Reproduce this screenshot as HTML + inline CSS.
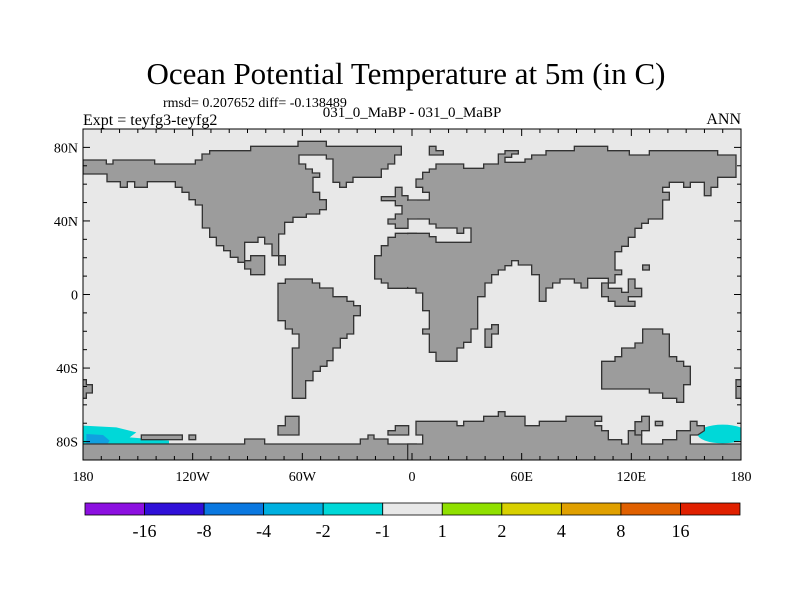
<!DOCTYPE html>
<html><head><meta charset="utf-8"><style>
body{margin:0;background:#fff;}
svg{display:block;font-family:"Liberation Serif",serif;}
</style></head><body>
<svg width="800" height="600" viewBox="0 0 800 600">
<text x="406" y="84" font-size="31" text-anchor="middle">Ocean Potential Temperature at 5m (in C)</text>
<text x="163" y="107" font-size="14">rmsd= 0.207652 diff= -0.138489</text>
<text x="412" y="117" font-size="15" text-anchor="middle">031_0_MaBP - 031_0_MaBP</text>
<text x="83" y="125" font-size="16">Expt = teyfg3-teyfg2</text>
<text x="741" y="124" font-size="16" text-anchor="end">ANN</text>
<defs><clipPath id="pc"><rect x="83" y="129" width="658" height="331"/></clipPath></defs>
<rect x="83" y="129" width="658" height="331" fill="#e8e8e8"/>
<g clip-path="url(#pc)">
<g transform="translate(83,129) scale(0.33333)" fill="#9c9c9c" stroke="#333" stroke-width="4">
<polygon fill="#00d8d8" stroke="none" points="0,890 100,895 160,910 140,925 258,935 258,950 0,950"/>
<polygon fill="#10a0e0" stroke="none" points="10,915 60,918 80,935 70,950 10,950"/>
<polygon points="0,93 70,93 70,105 90,105 90,93 215,93 215,105 337,105 337,93 357,93 357,75 380,75 380,65 503,65 503,52 645,52 645,37 730,37 730,52 955,52 955,78 935,78 935,105 915,105 915,120 895,120 895,145 810,145 810,160 790,160 790,175 770,175 770,160 750,160 750,90 730,90 730,78 648,78 648,105 668,105 668,120 688,120 688,132 710,132 710,145 690,145 690,190 710,190 710,212 730,212 730,242 710,242 710,255 670,255 670,265 630,265 630,280 605,280 605,315 587,315 587,380 607,380 607,408 587,408 587,380 567,380 567,345 545,345 545,325 525,325 525,340 485,340 485,400 465,400 465,385 442,385 442,365 422,365 422,350 400,350 400,325 380,325 380,297 358,297 358,228 337,228 337,212 318,212 318,190 297,190 297,175 277,175 277,158 193,158 193,175 155,175 155,158 133,158 133,175 112,175 112,158 72,158 72,135 0,135"/>
<polygon points="485,395 503,395 503,380 545,380 545,437 503,437 503,420 485,420"/>
<polygon points="937,175 957,175 957,200 975,200 975,298 937,298 937,285 915,285 915,270 937,270 937,255 957,255 957,230 937,230 937,215 895,215 895,203 937,203"/>
<polygon points="875,380 895,380 895,350 915,350 915,325 937,325 937,313 1000,313 1000,478 915,478 915,462 895,462 895,450 875,450"/>
<polygon points="585,463 607,463 607,450 688,450 688,462 710,462 710,477 750,477 750,503 792,503 792,517 812,517 812,530 832,530 832,560 812,560 812,615 792,615 792,628 772,628 772,657 750,657 750,695 732,695 732,712 712,712 712,727 690,727 690,755 668,755 668,808 628,808 628,657 648,657 648,615 628,615 628,600 607,600 607,575 585,575"/>
<polygon points="-5,752 10,752 10,767 28,767 28,792 10,792 10,808 -5,808"/>
<polygon points="607,862 648,862 648,918 585,918 585,890 607,890"/>
<polygon points="915,905 937,905 937,890 977,890 977,918 915,918"/>
<rect x="175" y="918" width="123" height="14"/>
<rect x="318" y="918" width="20" height="14"/>
<polygon points="-5,945 485,945 485,930 545,930 545,945 832,945 832,930 855,930 855,918 873,918 873,930 915,930 915,945 1000,945 1000,1000 -5,1000"/>
</g>
<g transform="translate(411,129) scale(0.33333)" fill="#9c9c9c" stroke="#333" stroke-width="4">
<ellipse cx="935" cy="915" rx="75" ry="28" fill="#00d8d8" stroke="none"/>
<polygon points="-10,213 55,213 55,190 35,190 35,175 15,175 15,150 35,150 35,130 55,130 55,120 75,120 75,105 158,105 158,118 218,118 218,105 262,105 262,75 282,75 282,65 322,65 322,75 302,75 302,85 282,85 282,100 342,100 342,90 362,90 362,78 405,78 405,65 490,65 490,52 590,52 590,65 655,65 655,78 715,78 715,65 920,65 920,78 975,78 975,145 920,145 920,175 900,175 900,200 880,200 880,160 838,160 838,175 818,175 818,160 775,160 775,175 755,175 755,190 775,190 775,213 755,213 755,270 712,270 712,283 692,283 692,298 672,298 672,325 652,325 652,352 632,352 632,368 612,368 612,423 632,423 632,437 612,437 612,462 592,462 592,448 530,448 530,477 510,477 510,462 490,462 490,450 447,450 447,462 425,462 425,477 405,477 405,517 385,517 385,437 362,437 362,408 322,408 322,395 302,395 302,410 282,410 282,423 262,423 262,437 242,437 242,462 222,462 222,503 200,503 200,600 180,600 180,640 158,640 158,657 138,657 138,697 75,697 75,670 55,670 55,615 35,615 35,600 55,600 55,545 35,545 35,492 15,492 15,478 -10,478 -10,313 55,313 55,323 75,323 75,340 180,340 180,297 158,297 158,313 138,313 138,297 75,297 75,285 55,285 55,270 -10,270"/>
<polygon points="572,462 592,462 592,478 632,478 632,490 652,490 652,450 672,450 672,478 692,478 692,503 652,503 652,517 672,517 672,532 612,532 612,517 592,517 592,503 572,503"/>
<rect x="695" y="408" width="20" height="15"/>
<polygon points="55,52 75,52 75,65 97,65 97,78 55,78"/>
<polygon points="222,600 242,600 242,587 262,587 262,615 242,615 242,655 222,655"/>
<polygon points="572,697 612,697 612,683 632,683 632,657 672,657 672,642 695,642 695,600 755,600 755,615 775,615 775,683 797,683 797,697 818,697 818,712 838,712 838,767 818,767 818,820 797,820 797,808 755,808 755,792 715,792 715,780 572,780"/>
<polygon points="1000,752 975,752 975,808 1000,808"/>
<polygon points="672,918 672,878 692,878 692,862 715,862 715,905 692,905 692,918"/>
<rect x="733" y="877" width="22" height="13"/>
<polygon points="-10,945 35,945 35,918 15,918 15,877 138,877 138,890 158,890 158,877 218,877 218,862 262,862 262,848 282,848 282,862 342,862 342,890 385,890 385,877 465,877 465,862 572,862 572,877 552,877 552,890 572,890 572,905 592,905 592,932 632,932 632,945 652,945 652,905 672,905 672,918 692,918 692,945 755,945 755,932 797,932 797,905 838,905 838,877 858,877 858,890 880,890 880,905 860,918 838,918 838,945 1000,945 1000,1000 -10,1000"/>
</g>
<rect x="406" y="200.8" width="11" height="17.4" fill="#9c9c9c"/>
<rect x="406" y="234.2" width="11" height="52.7" fill="#9c9c9c"/>
</g>
<rect x="83" y="129" width="658" height="331" fill="none" stroke="#000" stroke-width="1"/>
<g id="ticks" stroke="#000" stroke-width="1"></g>
<g id="labels" font-size="14"></g>
<g id="cbar"></g>
<script>
const lonTicks=[-180,-120,-60,0,60,120,180];
const lonLabels=["180","120W","60W","0","60E","120E","180"];
const latTicks=[80,40,0,-40,-80];
const latLabels=["80N","40N","0","40S","80S"];
const cbLevels=["-16","-8","-4","-2","-1","1","2","4","8","16"];
const cbColors=["#8c10e0","#3010d8","#0a78e0","#00b0e0","#00d8d8","#e8e8e8","#90e000","#d8d000","#e0a000","#e06000","#e02000"];
const NS="http://www.w3.org/2000/svg";
const X=l=>83+(l+180)/360*658, Y=a=>294.5-a/180*331;
const tg=document.getElementById('ticks'), lg=document.getElementById('labels'), cg=document.getElementById('cbar');
function ln(x1,y1,x2,y2){const e=document.createElementNS(NS,'line');e.setAttribute('x1',x1);e.setAttribute('y1',y1);e.setAttribute('x2',x2);e.setAttribute('y2',y2);


tg.appendChild(e);}
for(let l=-180;l<=180;l+=10){const big=l%60===0?7:4;ln(X(l),460,X(l),460-big);ln(X(l),129,X(l),129+big);}
for(let a=-90;a<=90;a+=10){const big=a%40===0?7:4;ln(83,Y(a),83+big,Y(a));ln(741,Y(a),741-big,Y(a));}
function tx(x,y,s,anc,g,name){const e=document.createElementNS(NS,'text');e.setAttribute('x',x);e.setAttribute('y',y);e.setAttribute('text-anchor',anc);e.textContent=s;


g.appendChild(e);return e;}
lonTicks.forEach((l,i)=>tx(X(l),481,lonLabels[i],'middle',lg,'x-tick-label'));
latTicks.forEach((a,i)=>tx(78,Y(a)+5,latLabels[i],'end',lg,'y-tick-label'));
const cx0=85,cw=(740-85)/cbColors.length;
cbColors.forEach((c,i)=>{const r=document.createElementNS(NS,'rect');r.setAttribute('x',cx0+i*cw);r.setAttribute('y',503);r.setAttribute('width',cw);r.setAttribute('height',12);r.setAttribute('fill',c);r.setAttribute('stroke','#000');r.setAttribute('stroke-width','0.8');


cg.appendChild(r);});
cbLevels.forEach((s,i)=>{const t=tx(cx0+(i+1)*cw,537,s,'middle',cg,'colorbar-label');t.setAttribute('font-size','18');});
</script>
</svg>
</body></html>
